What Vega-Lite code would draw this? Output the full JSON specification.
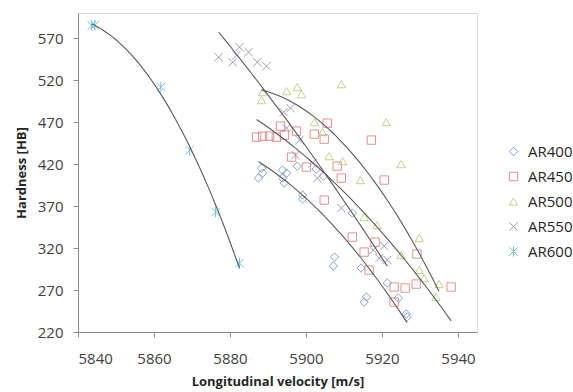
{
  "$schema": "https://vega.github.io/schema/vega-lite/v6.json",
  "width": 399,
  "height": 319,
  "autosize": {"type": "none"},
  "padding": {"left": 78, "top": 13, "right": 96, "bottom": 60},
  "background": "white",
  "config": {
    "font": "Open Sans",
    "view": {"stroke": "#d9d9d9", "strokeWidth": 1},
    "axis": {
      "grid": false,
      "domainColor": "#8c8c8c",
      "tickColor": "#8c8c8c",
      "tickSize": 5,
      "labelFontSize": 15,
      "labelColor": "#404040",
      "titleFontSize": 13,
      "titleFontWeight": "bold",
      "titleColor": "#262626"
    }
  },
  "data": {
    "values": [
      {"series": "AR400", "v": 5888.3, "h": 415.2},
      {"series": "AR400", "v": 5888.6, "h": 409.3},
      {"series": "AR400", "v": 5887.5, "h": 403.3},
      {"series": "AR400", "v": 5893.8, "h": 412.9},
      {"series": "AR400", "v": 5894.9, "h": 409.3},
      {"series": "AR400", "v": 5893.8, "h": 403.3},
      {"series": "AR400", "v": 5894.3, "h": 397.4},
      {"series": "AR400", "v": 5897.7, "h": 417.6},
      {"series": "AR400", "v": 5902.7, "h": 414.0},
      {"series": "AR400", "v": 5904.6, "h": 405.7},
      {"series": "AR400", "v": 5899.1, "h": 383.1},
      {"series": "AR400", "v": 5899.1, "h": 378.3},
      {"series": "AR400", "v": 5912.2, "h": 361.7},
      {"series": "AR400", "v": 5907.5, "h": 309.3},
      {"series": "AR400", "v": 5907.2, "h": 298.6},
      {"series": "AR400", "v": 5914.5, "h": 296.2},
      {"series": "AR400", "v": 5921.4, "h": 278.3},
      {"series": "AR400", "v": 5924.3, "h": 260.5},
      {"series": "AR400", "v": 5915.9, "h": 261.7},
      {"series": "AR400", "v": 5915.3, "h": 255.7},
      {"series": "AR400", "v": 5926.4, "h": 241.4},
      {"series": "AR400", "v": 5926.6, "h": 237.9},
      {"series": "AR450", "v": 5887.0, "h": 452.1},
      {"series": "AR450", "v": 5888.6, "h": 453.3},
      {"series": "AR450", "v": 5890.4, "h": 453.3},
      {"series": "AR450", "v": 5892.2, "h": 452.1},
      {"series": "AR450", "v": 5893.3, "h": 465.2},
      {"series": "AR450", "v": 5894.3, "h": 454.5},
      {"series": "AR450", "v": 5897.5, "h": 459.3},
      {"series": "AR450", "v": 5902.2, "h": 455.7},
      {"series": "AR450", "v": 5904.8, "h": 449.8},
      {"series": "AR450", "v": 5905.6, "h": 468.8},
      {"series": "AR450", "v": 5896.2, "h": 428.3},
      {"series": "AR450", "v": 5900.1, "h": 416.4},
      {"series": "AR450", "v": 5908.2, "h": 417.6},
      {"series": "AR450", "v": 5909.3, "h": 403.3},
      {"series": "AR450", "v": 5917.2, "h": 448.6},
      {"series": "AR450", "v": 5920.6, "h": 401.0},
      {"series": "AR450", "v": 5904.8, "h": 377.1},
      {"series": "AR450", "v": 5912.2, "h": 333.1},
      {"series": "AR450", "v": 5918.2, "h": 327.1},
      {"series": "AR450", "v": 5915.3, "h": 315.2},
      {"series": "AR450", "v": 5916.6, "h": 293.8},
      {"series": "AR450", "v": 5923.2, "h": 273.6},
      {"series": "AR450", "v": 5926.1, "h": 272.4},
      {"series": "AR450", "v": 5929.0, "h": 277.1},
      {"series": "AR450", "v": 5929.2, "h": 312.9},
      {"series": "AR450", "v": 5938.2, "h": 273.6},
      {"series": "AR450", "v": 5923.2, "h": 255.7},
      {"series": "AR500", "v": 5888.6, "h": 505.7},
      {"series": "AR500", "v": 5888.3, "h": 496.2},
      {"series": "AR500", "v": 5894.9, "h": 506.9},
      {"series": "AR500", "v": 5897.7, "h": 511.7},
      {"series": "AR500", "v": 5898.8, "h": 503.3},
      {"series": "AR500", "v": 5909.3, "h": 515.2},
      {"series": "AR500", "v": 5902.2, "h": 470.0},
      {"series": "AR500", "v": 5904.3, "h": 458.1},
      {"series": "AR500", "v": 5906.1, "h": 429.5},
      {"series": "AR500", "v": 5909.6, "h": 423.6},
      {"series": "AR500", "v": 5914.3, "h": 401.0},
      {"series": "AR500", "v": 5921.1, "h": 470.0},
      {"series": "AR500", "v": 5925.0, "h": 420.0},
      {"series": "AR500", "v": 5915.3, "h": 356.9},
      {"series": "AR500", "v": 5918.7, "h": 347.4},
      {"series": "AR500", "v": 5929.8, "h": 331.9},
      {"series": "AR500", "v": 5925.0, "h": 311.7},
      {"series": "AR500", "v": 5929.8, "h": 293.8},
      {"series": "AR500", "v": 5931.1, "h": 284.3},
      {"series": "AR500", "v": 5935.0, "h": 277.1},
      {"series": "AR500", "v": 5934.2, "h": 261.7},
      {"series": "AR550", "v": 5877.0, "h": 547.4},
      {"series": "AR550", "v": 5880.7, "h": 541.4},
      {"series": "AR550", "v": 5882.5, "h": 559.3},
      {"series": "AR550", "v": 5881.7, "h": 549.8},
      {"series": "AR550", "v": 5884.9, "h": 553.3},
      {"series": "AR550", "v": 5887.2, "h": 541.4},
      {"series": "AR550", "v": 5889.6, "h": 536.7},
      {"series": "AR550", "v": 5894.1, "h": 481.9},
      {"series": "AR550", "v": 5895.9, "h": 486.7},
      {"series": "AR550", "v": 5894.9, "h": 462.9},
      {"series": "AR550", "v": 5898.3, "h": 448.6},
      {"series": "AR550", "v": 5897.2, "h": 430.7},
      {"series": "AR550", "v": 5901.7, "h": 421.2},
      {"series": "AR550", "v": 5903.0, "h": 403.3},
      {"series": "AR550", "v": 5909.3, "h": 367.6},
      {"series": "AR550", "v": 5917.7, "h": 317.6},
      {"series": "AR550", "v": 5920.6, "h": 322.4},
      {"series": "AR550", "v": 5919.3, "h": 308.0},
      {"series": "AR550", "v": 5921.4, "h": 305.7},
      {"series": "AR600", "v": 5843.6, "h": 585.0},
      {"series": "AR600", "v": 5844.4, "h": 585.5},
      {"series": "AR600", "v": 5861.8, "h": 511.7},
      {"series": "AR600", "v": 5869.4, "h": 436.7},
      {"series": "AR600", "v": 5876.2, "h": 362.9},
      {"series": "AR600", "v": 5882.5, "h": 302.0}
    ]
  },
  "encoding": {
    "x": {
      "field": "v",
      "type": "quantitative",
      "scale": {"domain": [5840, 5945], "nice": false, "zero": false},
      "axis": {
        "values": [5840, 5860, 5880, 5900, 5920, 5940],
        "format": "d",
        "title": "Longitudinal velocity [m/s]",
        "labelPadding": 14,
        "titlePadding": 9
      }
    },
    "y": {
      "field": "h",
      "type": "quantitative",
      "scale": {"domain": [220, 600], "nice": false, "zero": false},
      "axis": {
        "values": [220, 270, 320, 370, 420, 470, 520, 570],
        "title": "Hardness [HB]",
        "labelPadding": 10,
        "titlePadding": 9
      }
    }
  },
  "layer": [
    {
      "mark": {"type": "point", "filled": false, "strokeWidth": 1, "size": 70, "opacity": 0.85},
      "encoding": {
        "color": {
          "field": "series",
          "type": "nominal",
          "scale": {
            "domain": ["AR400", "AR450", "AR500", "AR550", "AR600"],
            "range": ["#6f8fcb", "#de7f7b", "#b5cd78", "#8f86ad", "#5fb9d2"]
          },
          "legend": {
            "title": null,
            "orient": "none",
            "legendX": 428,
            "legendY": 131,
            "labelFontSize": 15,
            "labelColor": "#262626",
            "labelOffset": 7,
            "rowPadding": 9,
            "symbolSize": 70,
            "symbolStrokeWidth": 1
          }
        },
        "shape": {
          "field": "series",
          "type": "nominal",
          "scale": {
            "domain": ["AR400", "AR450", "AR500", "AR550", "AR600"],
            "range": ["diamond", "square", "triangle-up", "M-1,-1L1,1M-1,1L1,-1", "M-1,-1L1,1M-1,1L1,-1M0,-1.25L0,1.25"]
          },
          "legend": null
        }
      }
    },
    {
      "transform": [
        {"regression": "h", "on": "v", "groupby": ["series"], "method": "poly", "order": 2}
      ],
      "mark": {"type": "line", "color": "#5a5a5a", "strokeWidth": 1.1},
      "encoding": {"detail": {"field": "series", "type": "nominal"}}
    }
  ]
}
